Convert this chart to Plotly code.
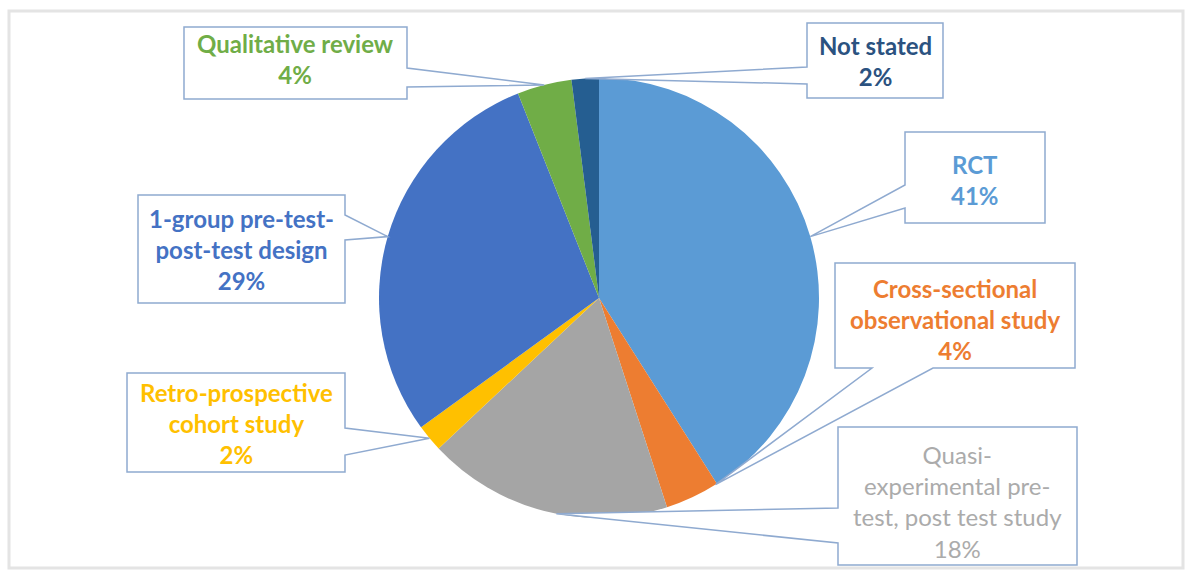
import math
import plotly.graph_objects as go

# ---- data ----
categories = ["RCT", "Cross-sectional observational study",
              "Quasi-experimental pre-test, post test study",
              "Retro-prospective cohort study",
              "1-group pre-test-post-test design",
              "Qualitative review", "Not stated"]
values = [41, 4, 18, 2, 29, 4, 2]
label_lines = [["RCT"], ["Cross-sectional", "observational study"],
               ["Quasi-", "experimental pre-", "test, post test study"],
               ["Retro-prospective", "cohort study"],
               ["1-group pre-test-", "post-test design"],
               ["Qualitative review"], ["Not stated"]]

# ---- styles ----
colors = ["#5B9BD5", "#ED7D31", "#A5A5A5", "#FFC000", "#4472C4", "#70AD47", "#255E91"]
text_colors = ["#5B9BD5", "#ED7D31", "#ABABAB", "#FFC000", "#4472C4", "#70AD47", "#2B5280"]
bold = [True, True, False, True, True, True, True]

W, H = 1194, 577
CX, CY, R = 599, 298, 220

# callout boxes in pixels: (left, top, right, bottom), pointer side, pointer base (a, b)
boxes = [
    ((905, 132, 1045, 223), "left", (185, 208)),
    ((835, 263, 1075, 368), "bottom", (872, 933)),
    ((838, 427, 1077, 565), "left", (508, 543)),
    ((127, 373, 345, 472), "right", (428, 455)),
    ((138, 195, 345, 303), "right", (215, 240)),
    ((184, 27, 407, 99), "right", (68, 87)),
    ((807, 23, 943, 98), "left", (67, 84)),
]
tip_frac = [0.5, 0.03, 0.45, 0.5, 0.5, 0.5, 0.5]
text_dy = [2, 4, 5, 1, 0, -4, 0]


def px(x):
    return x / W


def py(y):
    return 1 - y / H


fig = go.Figure()
fig.add_trace(go.Pie(
    labels=categories, values=values, sort=False, direction="clockwise",
    rotation=0, textinfo="none", hoverinfo="label+percent",
    marker=dict(colors=colors, line=dict(width=0)),
    domain=dict(x=[px(CX - R), px(CX + R)], y=[py(CY + R), py(CY - R)]),
    showlegend=False,
))

shapes = []
annotations = []
total = sum(values)
cum = 0
for i, v in enumerate(values):
    ang = (cum + v * tip_frac[i]) / total * 2 * math.pi
    cum += v
    tx = CX + R * math.sin(ang)
    ty = CY - R * math.cos(ang)
    (l, t, r, b), side, (a, c) = boxes[i]
    if side == "right":
        pts = [(l, t), (r, t), (r, a), (tx, ty), (r, c), (r, b), (l, b)]
    elif side == "left":
        pts = [(l, t), (r, t), (r, b), (l, b), (l, c), (tx, ty), (l, a)]
    else:  # bottom
        pts = [(l, t), (r, t), (r, b), (c, b), (tx, ty), (a, b), (l, b)]
    path = "M " + " L ".join(f"{px(x):.5f},{py(y):.5f}" for x, y in pts) + " Z"
    shapes.append(dict(type="path", path=path, xref="paper", yref="paper",
                       fillcolor="white", line=dict(color="#8FAAD0", width=1.5),
                       layer="above"))
    lines = label_lines[i] + [f"{round(v / total * 100)}%"]
    txt = "<br>".join(f"<b>{s}</b>" if bold[i] else s for s in lines)
    annotations.append(dict(x=px((l + r) / 2), y=py((t + b) / 2 + text_dy[i]),
                            xref="paper", yref="paper",
                            text=txt, showarrow=False, xanchor="center", yanchor="middle",
                            align="center",
                            font=dict(family="Lato", size=24, color=text_colors[i])))

# outer light frame
shapes.insert(0, dict(type="rect", xref="paper", yref="paper",
                      x0=px(9), x1=px(1183), y0=py(568), y1=py(11),
                      line=dict(color="#E4E4E4", width=3), layer="below"))

fig.update_layout(width=W, height=H, margin=dict(l=0, r=0, t=0, b=0),
                  paper_bgcolor="white", plot_bgcolor="white",
                  shapes=shapes, annotations=annotations)
fig.write_html("out.html")
